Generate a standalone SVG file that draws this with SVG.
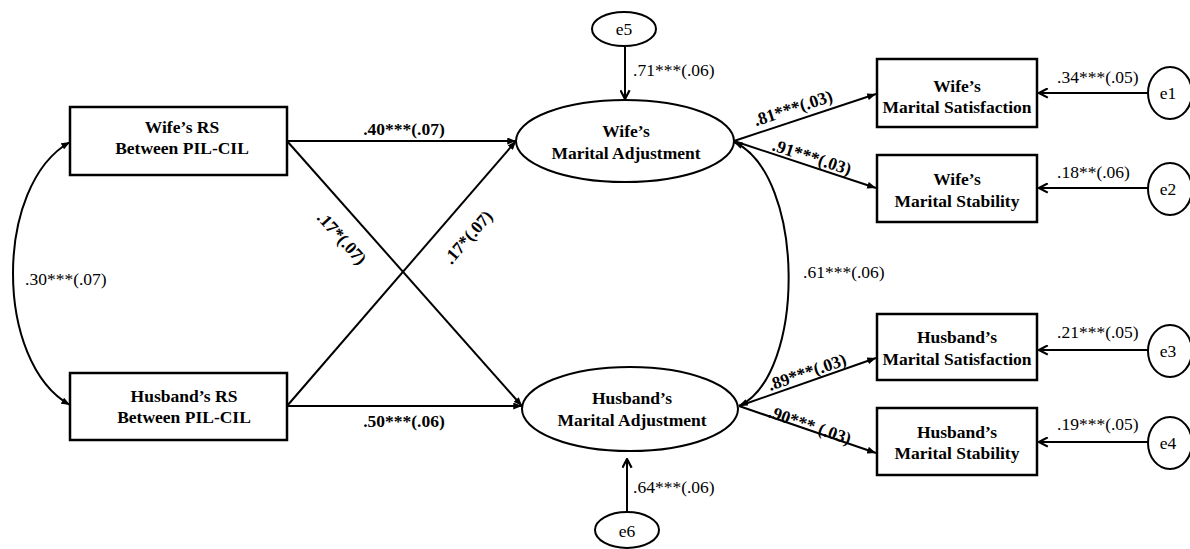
<svg xmlns="http://www.w3.org/2000/svg" width="1190" height="549" viewBox="0 0 1190 549">
<style>
.box{fill:#fff;stroke:#000;stroke-width:2.5}
.ell{fill:#fff;stroke:#000;stroke-width:2}
.ln{fill:none;stroke:#000;stroke-width:2}
.b{font-family:"Liberation Serif",serif;font-size:17.5px;font-weight:bold;fill:#000}
.r{font-family:"Liberation Serif",serif;font-size:17.5px;fill:#000}
.m{text-anchor:middle}
</style>
<defs>
<marker id="tri" viewBox="0 0 10 8" refX="10" refY="4" markerWidth="9" markerHeight="7" markerUnits="userSpaceOnUse" orient="auto-start-reverse">
<path d="M0,0 L10,4 L0,8 z" fill="#000"/>
</marker>
<marker id="chev" viewBox="0 0 10 10" refX="9" refY="5" markerWidth="11" markerHeight="11" markerUnits="userSpaceOnUse" orient="auto">
<path d="M1,0.8 L9,5 L1,9.2" fill="none" stroke="#000" stroke-width="2"/>
</marker>
</defs>
<g id="connectors">
<path class="ln" d="M70,142 C-6,185 -6,362 70,405" marker-start="url(#tri)" marker-end="url(#tri)"/>
<line class="ln" x1="287" y1="141" x2="516" y2="141" marker-end="url(#tri)"/>
<line class="ln" x1="287" y1="141" x2="522" y2="406" marker-end="url(#tri)"/>
<line class="ln" x1="287" y1="406" x2="516" y2="141" marker-end="url(#tri)"/>
<line class="ln" x1="287" y1="406" x2="522" y2="406" marker-end="url(#tri)"/>
<line class="ln" x1="625" y1="47" x2="625" y2="99" marker-end="url(#chev)"/>
<line class="ln" x1="627" y1="512" x2="627" y2="459" marker-end="url(#chev)"/>
<line class="ln" x1="734" y1="141" x2="876" y2="94" marker-end="url(#tri)"/>
<line class="ln" x1="734" y1="141" x2="876" y2="188" marker-end="url(#tri)"/>
<line class="ln" x1="739" y1="406" x2="876" y2="358" marker-end="url(#tri)"/>
<line class="ln" x1="739" y1="406" x2="876" y2="453" marker-end="url(#tri)"/>
<path class="ln" d="M734,142 C806,175 806,375 739,406" marker-start="url(#tri)" marker-end="url(#tri)"/>
<line class="ln" x1="1148" y1="93" x2="1039" y2="93" marker-end="url(#chev)"/>
<line class="ln" x1="1148" y1="188" x2="1039" y2="188" marker-end="url(#chev)"/>
<line class="ln" x1="1148" y1="350" x2="1039" y2="350" marker-end="url(#chev)"/>
<line class="ln" x1="1148" y1="442" x2="1039" y2="442" marker-end="url(#chev)"/>
<text class="r" x="25" y="285">.30***(.07)</text>
<text class="b m" x="404" y="135">.40***(.07)</text>
<text class="b m" x="404" y="427">.50***(.06)</text>
<text class="b m" transform="translate(342,238) rotate(48)" x="0" y="6">.17*(.07)</text>
<text class="b m" transform="translate(468,237) rotate(-49)" x="0" y="6">.17*(.07)</text>
<text class="r" x="633" y="76">.71***(.06)</text>
<text class="r" x="633" y="493">.64***(.06)</text>
<text class="r" x="803" y="278">.61***(.06)</text>
<text class="b m" transform="translate(793,108) rotate(-18)" x="0" y="6">.81***(.03)</text>
<text class="b m" transform="translate(812,157) rotate(18)" x="0" y="6">.91***(.03)</text>
<text class="b m" transform="translate(807,372) rotate(-19)" x="0" y="6">.89***(.03)</text>
<text class="b m" transform="translate(810,425) rotate(19)" x="0" y="6">.90*** (.03)</text>
<text class="r" x="1057" y="83">.34***(.05)</text>
<text class="r" x="1057" y="178">.18**(.06)</text>
<text class="r" x="1057" y="338">.21***(.05)</text>
<text class="r" x="1057" y="430">.19***(.05)</text>
</g>
<g id="wife_rs">
<rect class="box" x="70" y="107" width="217" height="68"/>
<text class="b m" x="182" y="133">Wife’s RS</text>
<text class="b m" x="182" y="154">Between PIL-CIL</text>
</g>
<g id="husband_rs">
<rect class="box" x="70" y="373" width="217" height="67"/>
<text class="b m" x="184" y="402">Husband’s RS</text>
<text class="b m" x="184" y="423">Between PIL-CIL</text>
</g>
<g id="wife_ma">
<ellipse class="ell" cx="625" cy="141" rx="109" ry="41"/>
<text class="b m" x="626" y="137">Wife’s</text>
<text class="b m" x="626" y="159">Marital Adjustment</text>
</g>
<g id="husband_ma">
<ellipse class="ell" cx="630" cy="409" rx="108" ry="42"/>
<text class="b m" x="632" y="404">Husband’s</text>
<text class="b m" x="632" y="426">Marital Adjustment</text>
</g>
<g id="e5">
<ellipse class="ell" cx="624" cy="29" rx="32" ry="17"/>
<text class="r m" x="624" y="35">e5</text>
</g>
<g id="e6">
<ellipse class="ell" cx="627" cy="530" rx="32" ry="18"/>
<text class="r m" x="627" y="537">e6</text>
</g>
<g id="wife_sat">
<rect class="box" x="877" y="59" width="160" height="68"/>
<text class="b m" x="957" y="92">Wife’s</text>
<text class="b m" x="957" y="113">Marital Satisfaction</text>
</g>
<g id="wife_stab">
<rect class="box" x="877" y="155" width="160" height="67"/>
<text class="b m" x="957" y="185">Wife’s</text>
<text class="b m" x="957" y="207">Marital Stability</text>
</g>
<g id="husband_sat">
<rect class="box" x="877" y="314" width="160" height="66"/>
<text class="b m" x="957" y="343">Husband’s</text>
<text class="b m" x="957" y="365">Marital Satisfaction</text>
</g>
<g id="husband_stab">
<rect class="box" x="877" y="408" width="160" height="67"/>
<text class="b m" x="957" y="438">Husband’s</text>
<text class="b m" x="957" y="459">Marital Stability</text>
</g>
<g id="e1">
<ellipse class="ell" cx="1170" cy="93" rx="22" ry="26"/>
<text class="r m" x="1168" y="99">e1</text>
</g>
<g id="e2">
<ellipse class="ell" cx="1170" cy="189" rx="22" ry="26"/>
<text class="r m" x="1168" y="195">e2</text>
</g>
<g id="e3">
<ellipse class="ell" cx="1170" cy="351" rx="22" ry="26"/>
<text class="r m" x="1168" y="357">e3</text>
</g>
<g id="e4">
<ellipse class="ell" cx="1170" cy="443" rx="22" ry="26"/>
<text class="r m" x="1168" y="449">e4</text>
</g>
</svg>
